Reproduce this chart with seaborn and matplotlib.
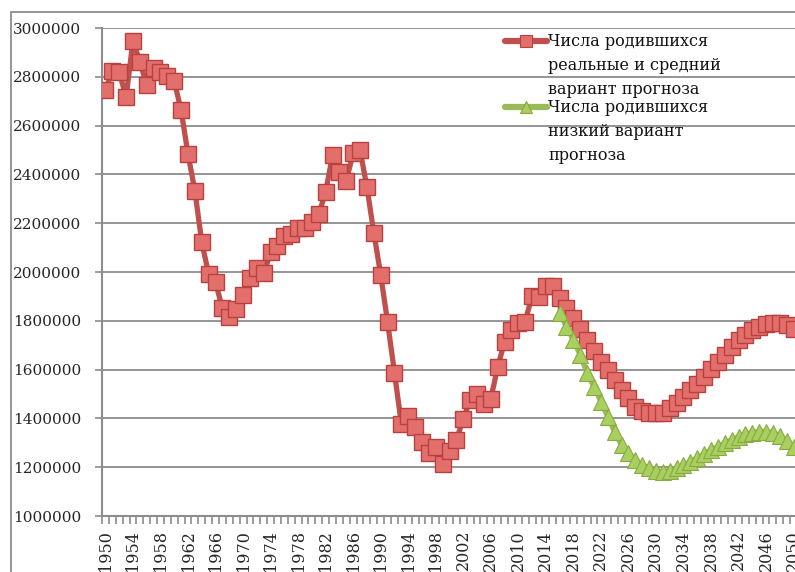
import matplotlib
matplotlib.use('Agg')
import matplotlib.pyplot as plt
import seaborn as sns
import pandas as pd
from matplotlib.lines import Line2D
from matplotlib.patches import Rectangle
from matplotlib.ticker import FixedLocator, FuncFormatter

# число родившихся, реальные данные 1950-2015 + средний вариант прогноза 2016-2050
years = list(range(1950, 2051))
births_mid = [
    2746000, 2825000, 2821000, 2716000, 2948000, 2862000, 2766000, 2835000, 2821000, 2803000,  # 1950-59
    2782000, 2662000, 2483000, 2332000, 2122000, 1991000, 1958000, 1851000, 1817000, 1848000,  # 1960-69
    1904000, 1975000, 2015000, 1995000, 2080000, 2106000, 2147000, 2157000, 2179000, 2179000,  # 1970-79
    2203000, 2237000, 2328000, 2478000, 2410000, 2375000, 2486000, 2500000, 2348000, 2161000,  # 1980-89
    1989000, 1795000, 1588000, 1379000, 1408000, 1364000, 1305000, 1260000, 1283000, 1215000,  # 1990-99
    1267000, 1312000, 1397000, 1477000, 1502000, 1457000, 1480000, 1610000, 1714000, 1762000,  # 2000-09
    1789000, 1797000, 1902000, 1896000, 1943000, 1941000, 1892000, 1851000, 1810000, 1765000,  # 2010-19
    1721000, 1676000, 1632000, 1598000, 1557000, 1517000, 1483000, 1448000, 1432000, 1424000,  # 2020-29
    1421000, 1424000, 1442000, 1462000, 1489000, 1517000, 1541000, 1571000, 1601000, 1632000,  # 2030-39
    1660000, 1694000, 1721000, 1742000, 1762000, 1776000, 1787000, 1790000, 1790000, 1783000,  # 2040-49
    1765000,  # 2050
]

# низкий вариант прогноза 2016-2050
years_low = list(range(2016, 2051))
births_low = [
    1831000, 1776000, 1721000, 1660000, 1585000, 1530000, 1469000, 1407000, 1345000, 1291000,  # 2016-25
    1257000, 1230000, 1209000, 1196000, 1186000, 1182000, 1186000, 1196000, 1209000, 1223000,  # 2026-35
    1237000, 1254000, 1271000, 1284000, 1298000, 1312000, 1325000, 1336000, 1342000, 1346000,  # 2036-45
    1346000, 1342000, 1328000, 1308000, 1283000,  # 2046-50
]

label_mid = 'Числа родившихся\nреальные и средний\nвариант прогноза'
label_low = 'Числа родившихся\nнизкий вариант\nпрогноза'

RED = '#C0504D'
RED_FACE = '#E36F6C'
RED_EDGE = '#B8413E'
GREEN = '#9BBB59'
GREEN_FACE = '#A9CF5E'
GREEN_EDGE = '#87AA45'
GRID = '#8C8C8C'

sns.set_style('white')
plt.rcParams['font.family'] = ['DejaVu Serif']
plt.rcParams['font.size'] = 11

W, H = 795, 572
fig = plt.figure(figsize=(W / 100, H / 100), dpi=100)
ax = fig.add_axes([102 / W, 1 - 516 / H, (797 - 102) / W, (516 - 28) / H])

df_mid = pd.DataFrame({'year': years, 'births': births_mid})
df_low = pd.DataFrame({'year': years_low, 'births': births_low})

sns.lineplot(data=df_mid, x='year', y='births', ax=ax, color=RED, lw=3.8,
             marker='s', markersize=11.5, markerfacecolor=RED_FACE,
             markeredgecolor=RED_EDGE, markeredgewidth=1.0, zorder=3)
sns.lineplot(data=df_low, x='year', y='births', ax=ax, color=GREEN, lw=3.8,
             marker='^', markersize=11, markerfacecolor=GREEN_FACE,
             markeredgecolor=GREEN_EDGE, markeredgewidth=0.8, zorder=4)

ax.set_xlim(1949.5, 2050.5)
ax.set_ylim(1000000, 3000000)
ax.set_xlabel('')
ax.set_ylabel('')

# y axis
ax.set_yticks(range(1000000, 3000001, 200000))
ax.yaxis.set_major_formatter(FuncFormatter(lambda v, p: f'{int(v)}'))
ax.yaxis.grid(True, color=GRID, lw=1.3)
ax.tick_params(axis='y', direction='out', length=5, width=1.2, color=GRID,
               pad=10, labelsize=11, left=True)

# x axis: подписи каждые 4 года, засечки между категориями
ax.set_xticks(years[::4])
ax.set_xticklabels([str(y) for y in years[::4]], rotation=90, va='top')
ax.xaxis.set_minor_locator(FixedLocator([y - 0.5 for y in years] + [2050.5]))
ax.tick_params(axis='x', which='major', length=0, pad=10, labelsize=11.5)
ax.tick_params(axis='x', which='minor', direction='out', length=6, width=1.2,
               color=GRID, bottom=True)

for side in ['top', 'right']:
    ax.spines[side].set_visible(False)
for side in ['left', 'bottom']:
    ax.spines[side].set_color(GRID)
    ax.spines[side].set_linewidth(1.5)

# рамка области диаграммы
fig.patches.append(Rectangle((11 / W, -0.1), 1.2, 1 - 12 / H + 0.1,
                             transform=fig.transFigure, fill=False,
                             edgecolor=GRID, lw=1.3))

# легенда
def legend_entry(y_px, color, face, edge, marker, ms, text):
    y = 1 - y_px / H
    fig.add_artist(Line2D([505 / W, 547 / W], [y, y], transform=fig.transFigure,
                          color=color, lw=4.5, solid_capstyle='round'))
    fig.add_artist(Line2D([526 / W], [y], transform=fig.transFigure, marker=marker,
                          markersize=ms, markerfacecolor=face, markeredgecolor=edge,
                          markeredgewidth=0.8, lw=0))
    fig.text(548 / W, y + 8 / H, text, ha='left', va='top', fontsize=11.5,
             linespacing=1.55, color='#111111')

legend_entry(41, RED, RED_FACE, RED_EDGE, 's', 8, label_mid)
legend_entry(107, GREEN, GREEN_FACE, GREEN_EDGE, '^', 8, label_low)

fig.savefig('out.png', dpi=100)
